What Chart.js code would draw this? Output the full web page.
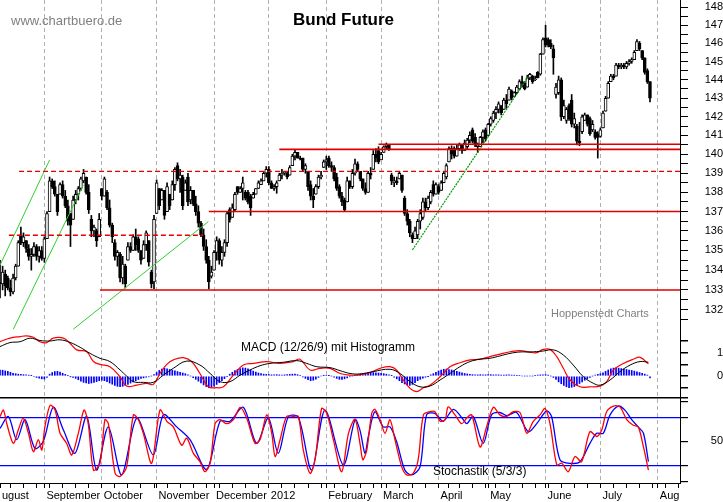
<!DOCTYPE html>
<html><head><meta charset="utf-8">
<script src="https://cdn.jsdelivr.net/npm/chart.js@4.4.1/dist/chart.umd.min.js"></script>
<style>
html,body{margin:0;padding:0;background:#fff;}
#wrap{position:relative;width:723px;height:502px;overflow:hidden;background:#fff;}
canvas{position:absolute;left:0;top:0;}
.t{position:absolute;white-space:nowrap;font-family:"Liberation Sans",Arial,Helvetica,sans-serif;line-height:1;}
</style></head><body>
<div id="wrap">
<canvas id="c" width="723" height="502"></canvas>
<div class="t" style="left:11px;top:13.5px;font-size:13px;color:#808080">www.chartbuero.de</div>
<div class="t" style="left:243.5px;width:200px;text-align:center;top:10.6px;font-size:17px;font-weight:bold;color:#000">Bund Future</div>
<div class="t" style="left:551px;top:308.2px;font-size:11px;color:#808080">Hoppenstedt Charts</div>
<div class="t" style="left:241px;top:340.5px;font-size:12px;color:#000">MACD (12/26/9) mit Histogramm</div>
<div class="t" style="left:433px;top:465px;font-size:12px;color:#000">Stochastik (5/3/3)</div>
</div>
<script>
const FONT_FAMILY = '"Liberation Sans", Arial, Helvetica, sans-serif';

// ---- Bund Future daily OHLC (trading-day index 0 = 9 Aug 2011) ----
const opens = [
133.4,133.3,133.8,133.6,133.1,132.9,133.6,134.2,135.8,135.4,
135.5,135.1,134.7,134.8,135.2,134.7,135.0,134.6,135.6,137.0,
138.6,138.3,137.9,137.9,138.4,137.8,137.3,136.9,136.6,137.6,
137.9,138.2,138.6,138.8,138.0,136.6,136.0,136.0,135.7,138.2,
137.8,138.0,137.2,136.3,135.4,134.7,134.8,133.6,134.2,134.5,
135.2,135.0,135.7,135.6,135.0,134.6,135.3,135.5,133.9,133.4,
136.9,138.2,137.6,138.1,137.0,137.9,137.6,138.4,139.4,138.7,
138.8,138.1,138.8,137.6,138.1,137.4,137.0,136.4,135.8,135.2,
134.5,133.7,134.0,134.9,135.5,134.5,134.9,135.4,137.1,136.7,
137.1,138.3,138.0,138.2,138.0,138.0,137.8,137.7,137.9,138.2,
138.4,138.6,139.0,139.2,138.5,138.2,138.3,138.6,138.9,139.0,
139.0,138.9,139.4,139.9,140.1,139.8,139.8,139.2,139.1,138.4,
137.8,137.9,138.3,138.8,139.3,139.6,139.8,139.4,139.3,138.8,
138.3,137.8,137.6,137.5,138.6,138.3,139.0,139.5,139.1,138.7,
138.2,138.0,139.0,139.2,140.0,140.2,139.7,140.1,140.4,140.5,
138.9,138.5,138.6,138.7,138.9,137.7,136.9,136.5,135.8,135.6,
135.8,136.5,136.7,137.5,137.2,137.5,138.4,137.9,138.3,138.1,
138.5,138.8,139.6,140.3,140.3,139.9,140.3,140.5,140.2,140.4,
140.75,141.3,140.9,140.4,140.4,140.9,141.3,141.0,141.6,141.8,
142.2,142.4,142.6,142.4,142.9,142.9,143.4,143.1,143.3,143.5,
143.9,143.8,143.6,144.1,144.2,144.0,144.4,144.3,145.4,146.3,
146.2,146.0,145.7,143.2,143.3,144.0,142.0,141.8,142.6,142.9,
141.6,141.5,140.7,141.2,141.8,142.1,141.9,141.3,141.2,141.1,
140.95,141.4,142.3,143.0,143.9,144.2,144.2,144.8,144.7,144.8,
144.7,144.9,145.0,145.1,145.6,146.0,145.6,145.2,144.5,143.9];
const highs = [
134.5,134.2,134.0,133.7,133.5,133.8,134.3,135.5,136.2,135.9,
135.5,135.3,135.1,135.4,135.3,135.2,135.2,135.7,137.0,138.8,
138.7,138.6,137.9,138.5,138.6,138.1,137.6,136.9,137.8,138.1,
138.3,138.8,139.2,138.8,138.4,136.8,136.3,136.1,136.9,138.2,
138.8,138.1,137.6,136.4,135.55,135.0,134.9,134.7,134.3,135.4,
135.4,135.8,136.1,135.7,135.0,135.5,136.0,135.5,134.0,136.8,
138.65,138.2,138.2,138.1,138.5,137.9,138.6,139.3,139.55,139.2,
138.9,138.65,139.0,138.3,138.1,137.8,137.3,136.5,136.1,135.55,
134.7,134.2,135.0,135.7,135.6,135.2,135.55,137.0,137.2,137.4,
138.0,138.3,138.3,138.8,138.1,138.1,137.9,138.0,138.2,138.6,
138.7,139.1,139.35,139.35,138.6,138.4,138.6,139.0,139.2,139.1,
139.1,139.4,140.0,140.26,140.1,139.9,139.8,139.5,139.1,138.6,
138.2,138.4,138.9,139.1,139.7,139.9,139.9,139.6,139.4,139.0,
138.4,138.0,137.7,138.8,138.6,139.2,139.75,139.6,139.1,138.7,
138.5,139.1,139.3,140.2,140.3,140.4,140.1,140.45,140.6,140.5,
139.0,138.8,138.8,139.1,138.9,137.8,137.1,136.6,135.9,136.2,
136.6,137.1,137.7,137.7,137.8,138.1,138.6,138.5,138.4,138.6,
139.1,139.5,140.4,140.45,140.4,140.5,140.6,140.5,140.76,140.85,
141.2,141.4,141.1,140.6,140.95,141.3,141.4,141.65,142.0,142.3,
142.55,142.8,142.6,143.0,143.2,143.6,143.45,143.35,143.7,144.0,
144.2,143.9,144.25,144.35,144.25,144.2,144.45,145.45,146.3,147.0,
146.3,146.2,145.9,143.8,144.2,144.1,142.9,142.5,142.7,143.2,
142.2,141.6,141.7,142.1,142.2,142.1,142.0,141.8,141.3,141.2,
141.4,142.3,143.1,143.9,144.3,144.3,144.9,144.9,144.9,144.9,
145.0,145.1,145.2,145.6,146.2,146.1,145.6,145.2,144.6,143.9];
const lows = [
132.6,133.0,132.7,133.0,132.7,132.8,133.5,134.2,135.3,135.2,
134.9,134.5,134.0,134.7,134.5,134.4,134.5,134.4,135.6,137.0,
138.2,137.8,136.8,137.9,137.7,137.2,136.3,135.2,136.6,137.4,
137.6,138.1,138.5,137.9,136.9,135.7,135.7,135.2,135.7,137.6,
137.8,137.1,136.2,135.4,134.5,134.2,133.4,133.3,133.1,134.5,
134.9,135.0,135.0,134.9,134.3,134.6,135.0,134.2,133.1,133.05,
136.9,137.1,137.6,136.6,137.0,137.1,137.6,138.1,138.6,138.0,
137.1,138.1,137.3,137.4,137.3,136.8,136.2,135.7,135.0,134.35,
133.05,133.6,134.0,134.5,134.3,134.2,134.7,135.2,136.45,136.7,
137.0,137.9,138.0,137.6,137.6,137.4,136.8,137.7,137.9,138.2,
138.4,138.6,138.8,138.4,138.2,138.1,137.95,138.6,138.7,138.9,
138.7,138.9,139.4,139.7,139.8,139.7,139.1,139.0,138.1,137.6,
137.2,137.9,138.2,138.7,139.3,139.2,139.3,139.1,138.6,138.1,
137.7,137.3,137.0,137.5,138.2,138.2,138.9,139.1,138.6,138.1,
137.9,138.0,138.7,139.2,139.6,139.5,139.7,140.1,140.3,140.2,
138.4,138.3,138.4,138.7,138.0,136.8,136.3,135.7,135.4,135.6,
135.6,136.1,136.6,137.0,137.1,137.4,137.8,137.9,137.9,138.1,
138.5,138.7,139.6,139.75,139.8,139.9,140.2,140.05,140.2,140.3,
140.6,140.6,140.4,140.1,140.4,140.6,140.7,141.0,141.5,141.7,
141.9,142.2,142.1,142.4,142.45,142.9,142.9,143.1,143.25,143.45,
143.6,143.45,143.6,144.0,143.8,143.95,144.1,144.25,145.4,145.8,
145.8,145.7,144.3,143.0,143.2,141.8,141.9,141.65,141.8,141.45,
141.4,140.5,140.45,141.1,141.8,141.5,141.0,141.2,140.8,139.8,
140.9,141.4,142.3,143.0,143.9,144.0,144.2,144.6,144.6,144.6,
144.6,144.8,144.9,145.1,145.6,145.6,145.1,144.3,143.8,142.8];
const closes = [
133.3,133.9,133.2,133.1,132.9,133.6,134.2,135.4,135.4,135.7,
135.1,134.7,134.8,135.2,134.7,135.0,134.6,135.6,136.9,138.6,
138.3,137.9,137.0,138.4,137.8,137.3,136.5,136.3,137.6,137.9,
138.2,138.7,139.0,138.0,137.1,136.0,136.2,135.5,136.6,137.8,
138.7,137.2,136.3,135.7,134.7,134.9,133.6,134.3,133.3,135.2,
135.0,135.7,135.3,135.0,134.5,135.3,135.9,134.4,133.3,136.6,
138.5,137.3,138.1,136.8,138.3,137.3,138.4,139.2,138.7,138.9,
137.3,138.5,137.5,138.1,137.4,137.0,136.4,135.8,135.2,134.5,
133.4,133.9,134.9,135.5,134.5,134.9,135.4,136.9,136.6,137.2,
137.9,138.0,138.2,138.5,137.7,137.5,137.2,137.9,138.2,138.5,
138.6,139.0,139.2,138.5,138.2,138.3,138.5,138.9,139.0,139.05,
138.8,139.3,139.9,140.1,139.8,139.75,139.2,139.4,138.3,137.8,
137.6,138.3,138.8,138.9,139.6,139.7,139.4,139.3,138.7,138.2,
137.8,137.5,137.1,138.6,138.3,139.0,139.5,139.2,138.7,138.2,
138.0,139.0,138.9,140.0,139.8,139.6,140.0,140.4,140.5,140.3,
138.6,138.6,138.5,139.0,138.1,136.9,136.5,135.9,135.6,136.0,
136.5,136.9,137.5,137.2,137.7,138.0,137.9,138.4,138.0,138.5,
139.0,139.4,140.3,140.0,139.9,140.3,140.5,140.2,140.6,140.75,
141.0,140.7,140.5,140.5,140.9,141.2,140.8,141.6,141.9,142.2,
142.4,142.7,142.2,142.9,142.7,143.5,143.0,143.3,143.6,143.9,
143.8,143.5,144.1,144.3,143.9,144.05,144.1,145.4,146.2,145.9,
145.9,145.8,145.2,143.6,144.0,142.0,142.6,142.4,141.9,141.6,
141.9,140.7,140.6,142.0,142.1,141.6,141.1,141.6,140.9,140.9,
141.3,142.2,143.0,143.8,144.2,144.1,144.8,144.7,144.8,144.7,
144.9,145.0,145.1,145.5,146.1,145.7,145.2,144.4,143.9,143.0];

// ---- MACD (12/26/9): histogram per day, lines read at sample days ----
const macdHist = [
0.26,0.25,0.22,0.2,0.16, 0.12,0.1,0.08,0.07, 0.06,0.05,0.04,0.02,
-0.03,-0.06,-0.09,-0.12,-0.13, -0.06,
0.08,0.15,0.19,0.2,0.17,0.12, 0.07,0.03,-0.02,-0.06,-0.1,-0.16,
-0.22,-0.27,-0.3,-0.32,-0.3,-0.27,-0.24, -0.2,-0.18,-0.2,-0.24,-0.3,
-0.35,-0.4,-0.44,-0.46,-0.44,-0.4,-0.36, -0.3,-0.25,-0.2,-0.15,
-0.1,-0.08,-0.05,-0.03,0.0,0.06, 0.15,0.24,0.3,0.33,0.31,
0.28,0.25,0.22,0.19,0.16,0.13,0.1, 0.05,0.0, -0.07,-0.14,-0.22,
-0.3,-0.38,-0.45,-0.5,-0.48,-0.43, -0.36,-0.28,-0.2,-0.11,
-0.02,0.08,0.16,0.23,0.28, 0.32,0.35,0.34,0.31, 0.26,0.21,0.17,0.13,0.1,0.08,
0.07,0.06,0.05,0.05,0.06,0.05,0.04,0.05,0.06,0.07,0.08,0.08,0.06,0.03,
-0.04,-0.1,-0.16,-0.2,-0.18,-0.13,-0.06, 0.0,0.02,0.03,0.02,0.0,
-0.05,-0.1,-0.14,-0.15,-0.12,-0.08, -0.03,0.0,0.02,0.05,
0.08,0.1,0.12,0.14,0.15,0.15,0.14,0.13,0.12,0.1,0.08,0.05,0.02,
-0.05,-0.12,-0.2,-0.28,-0.34,-0.38,-0.4,-0.36,-0.28,-0.2,
-0.14,-0.09,-0.05,-0.01,
0.05,0.1,0.16,0.22,0.26,0.29,0.3,0.28,0.26,0.23,
0.2,0.17,0.14,0.11,0.09,0.07,
0.06,0.05,0.05,0.06,0.05,0.05,0.06,0.06,0.05,0.05,0.05,0.04,0.04,0.05,0.05,0.04,0.04,0.03,0.03,
0.0,0.0,0.0,0.0,0.0, 0.03,0.04,0.05,0.05,0.06,0.04,0.0,
-0.06,-0.15,-0.25,-0.33,-0.4,-0.46,-0.5,-0.48,-0.45,-0.4,
-0.32,-0.25,-0.18,-0.12,-0.06, 0.0,0.04,0.07,0.1,0.14,
0.2,0.26,0.31,0.34,0.35,0.34,0.32,0.3,0.28,0.26,0.24,0.21,
0.18,0.15,0.12,0.08,0.04, -0.08];
const macdDay = [0,3.8,7.7,10.2,12.8,15.3,17.9,20.4,24.3,26.8,29.4,33.2,35.8,38.3,42.1,46,48.5,52.4,56.2,58.7,61.3,63.9,66.4,70.2,73.4,76.6,79.8,83,85.6,89.4,93.2,97.1,102.2,107.3,112.4,114.9,118.8,122.6,126.4,130.3,134.1,137.9,141.7,145.6,149.4,151.9,154.5,157.1,159.6,162.2,164.7,168.6,172.4,176.2,180.1,183.9,187.7,191.5,195.4,199.2,203,205.6,208.1,210.7,213.3,215.8,218.4,222.2,226,229.9,232.4,235,238.8,242.6,245.2,248.4];
const macdLine = [1.47,1.62,1.69,1.72,1.66,1.47,1.43,1.62,1.62,1.40,1.12,1.04,0.62,0.50,0.40,-0.03,-0.43,-0.39,-0.31,-0.36,0.11,0.50,0.69,0.79,0.62,0.11,-0.46,-0.50,-0.46,0.04,0.47,0.54,0.62,0.54,0.62,0.72,0.26,0.33,0.33,0.11,0.04,0.05,0.14,0.33,0.40,0.26,-0.17,-0.53,-0.67,-0.50,-0.39,-0.03,0.40,0.57,0.69,0.72,0.83,0.94,1.04,1.09,1.02,1.00,1.14,1.14,0.83,0.33,-0.17,-0.46,-0.46,-0.43,-0.24,0.26,0.54,0.72,0.80,0.52];
const signalDay = [0,3.8,7.7,11.5,15.3,19.2,23,26.8,30.7,34.5,38.3,42.1,46,48.5,51.1,54.9,58.7,62.6,66.4,71.5,76.6,80.5,84.3,88.1,92,95.8,99.6,103.4,108.6,113.7,117.5,121.3,126.4,130.3,134.1,137.9,143,149.4,153.2,157.1,160.9,164.7,168.6,172.4,176.2,180.1,183.9,187.7,191.5,195.4,199.2,203,208.1,212,215.8,219.6,223.5,227.3,229.9,233.7,237.5,241.4,245.2,248.4];
const signalLine = [1.26,1.43,1.47,1.62,1.52,1.50,1.55,1.44,1.23,0.97,0.76,0.62,0.26,0.0,-0.24,-0.27,-0.27,0.04,0.33,0.64,0.47,0.11,-0.24,-0.24,0.04,0.26,0.44,0.54,0.59,0.66,0.54,0.40,0.36,0.23,0.11,0.09,0.19,0.29,0.11,-0.24,-0.46,-0.43,-0.17,0.11,0.40,0.62,0.72,0.76,0.86,0.97,1.03,1.03,1.07,1.12,0.90,0.47,-0.03,-0.31,-0.39,-0.17,0.19,0.47,0.62,0.59];

// ---- Stochastik (5/3/3) ----
const stochKDay = [0,1.3,2.6,5.1,7,8.9,10.9,12.8,14.7,16,17.2,19.2,21.1,23,25.5,27.5,30,32.2,33.8,35.8,38.3,40.2,41.5,44.1,46,48.5,51.1,53,54.9,58.1,61.3,63.9,66.4,69.6,71.5,74.1,76.6,78.5,80.5,82.4,84.3,86.8,89.4,92,94.5,97.7,99.6,102.2,104.1,105.4,107.3,109.8,112.4,114.3,116.2,118.8,120.7,123.2,125.2,127.7,130.9,133.5,136,137.9,139,140.5,142.4,143.6,145.6,147.5,149.4,151.3,153.9,155.8,158.3,160.2,162.2,164.7,166.6,168.6,170.5,171.7,174.3,176.9,178.8,180.7,183.9,186.4,189,191.5,194.1,196.6,199.2,201.8,204.3,206.9,208.8,210.7,213.3,215.2,217.7,220.3,222.8,226,228.6,230.5,232.4,235,237.5,240.1,242.6,244.5,246.5,248.4];
const stochK = [80.8,89,72,47.5,64,79,60,37,52,39,68,95,89,60,47.5,33,60,89,72,14,22.5,77,72,10,6,18,83,77,60,22.5,89,75,68,45,54,35,24.5,12,22.5,72,77,72,77,92.5,79,47.5,52,83,60,31,52,81,81,81,39,10,27,91,85,52,12,60,77.5,47.5,27,39,85,90,77,60,77,52,18,8,10,27,83,87,87,75,77,93,83,72,79,83,43,68,92.5,83,81,87,86,60,75,83,91,72,20.5,22.5,12,31,24.5,62,56,64,87,94,93,77,70,68,43,14];
const stochDDay = [0,3.2,6.4,9.6,13.4,16.6,20.4,24.3,28.7,33.2,37,41.5,46.6,52.4,58.7,62.6,67.7,72.8,79.2,84.3,88.1,93.2,98.3,102.8,106.6,110.5,114.3,119.4,124.5,131.5,136,137.9,139.8,141.1,143.6,146.8,149.4,151.9,155.1,157.7,160.9,163.4,166.6,169.8,173.7,177.5,178.8,181.3,185.1,188.3,191.5,194.1,197.9,202.4,205.6,209.4,211.3,214.5,218.4,222.2,226,228.6,231.1,233.7,236.9,239.4,242,244.5,246.5,248.4];
const stochD = [66,81,52,77,41,50,92.5,64,35,81,14,68,8,79,33,83,68,52,15,75,75,92.5,47.5,79,35,81,80,14,89,20.5,77,64,35,56,87,68,68,50,14,8,18,83,85,75,90,77,72,81,47.5,83,86,82,86,62,72,88,81,27,22.5,24.5,47.5,60,60,83,94,89,77,68,60,24.5];

// ---- drawn support/resistance levels and trend lines ----
const solidLevelPrice = [133.0, 137.0, 140.26, 140.53];
const solidLevelFrom  = [38.3, 80.0, 107.0, 145.0];
const dashedLevelPrice = [139.1, 135.78];
const dashedLevelFrom  = [7.3, 3.4];
const dashedLevelTo    = [260.5, 77.9];
const trendFromDay   = [0, 5.1, 28.1];
const trendFromPrice = [134.25, 131.04, 131.04];
const trendToDay     = [19.0, 31.9, 79.8];
const trendToPrice   = [139.7, 138.38, 136.48];
const steepTrend = {fromDay:158, fromPrice:135.03, toDay:202.4, toPrice:144.17};

// ---- axis ticks ----
const monthTickIdx = [0, 17, 39, 60, 82, 103, 125, 146, 168, 187, 209, 230, 252];
const monthLabels = ['ugust','September','October','November','December','2012','February','March','April','May','June','July','Aug'];
const weekTickIdx = [4,9,14,19,24,29,34,44,49,54,59,64,69,74,79,84,89,94,99,108,113,118,123,128,133,138,143,148,153,158,163,172,176,181,186,190,195,200,205,210,215,220,225,235,240,245,250,255,260];
const priceTicks = [131.5,132,132.5,133,133.5,134,134.5,135,135.5,136,136.5,137,137.5,138,138.5,139,139.5,140,140.5,141,141.5,142,142.5,143,143.5,144,144.5,145,145.5,146,146.5,147,147.5,148];
const priceLabels = [132,133,134,135,136,137,138,139,140,141,142,143,144,145,146,147,148];
const MACD_MIN = -0.94, MACD_MAX = 1.97;
const macdTicks = [MACD_MIN, -0.5, 0, 0.5, 1, 1.5];
const macdLabels = [0, 1];
const stochTicks = [0, 20, 50, 80, 100];
const stochBands = [20, 80];
const stochLabels = [50];

const X_MAX = 260.5;
const xTicks = monthTickIdx.concat(weekTickIdx).sort((a,b)=>a-b);
const days = closes.map((_, i) => i);

const pts = (xs, ys) => xs.map((x, k) => ({x: x, y: ys[k]}));
const datasets = [];

// candles: wicks then bodies
datasets.push({type:'bar', label:'range', xAxisID:'x', yAxisID:'yP', order:4, grouped:false,
  data: days.map(i => ({x:i, y:[lows[i], highs[i]]})), barThickness:1, backgroundColor:'#000', borderWidth:0});
datasets.push({type:'bar', label:'body', xAxisID:'x', yAxisID:'yP', order:3, grouped:false,
  data: days.map(i => ({x:i, y:[opens[i], closes[i]]})), barThickness:3, minBarLength:1,
  backgroundColor: c => { const r = c.raw; return (r && r.y[1] >= r.y[0]) ? '#ffffff' : '#000000'; },
  borderColor:'#000', borderWidth:1, borderSkipped:false});

// levels
solidLevelPrice.forEach((p, k) => datasets.push({type:'line', xAxisID:'x', yAxisID:'yP', order:1,
  data:[{x:solidLevelFrom[k], y:p},{x:X_MAX, y:p}], borderColor:'#e00000', borderWidth:1.6, pointRadius:0, fill:false}));
dashedLevelPrice.forEach((p, k) => datasets.push({type:'line', xAxisID:'x', yAxisID:'yP', order:1,
  data:[{x:dashedLevelFrom[k], y:p},{x:dashedLevelTo[k], y:p}], borderColor:'#e00000', borderWidth:1.4, borderDash:[5,3], pointRadius:0, fill:false}));
trendFromDay.forEach((d, k) => datasets.push({type:'line', xAxisID:'x', yAxisID:'yP', order:1,
  data:[{x:d, y:trendFromPrice[k]},{x:trendToDay[k], y:trendToPrice[k]}], borderColor:'#33cc33', borderWidth:1, pointRadius:0, fill:false}));
datasets.push({type:'line', xAxisID:'x', yAxisID:'yP', order:1,
  data:[{x:steepTrend.fromDay, y:steepTrend.fromPrice},{x:steepTrend.toDay, y:steepTrend.toPrice}],
  borderColor:'#009900', borderWidth:1.2, borderDash:[2,1], pointRadius:0, fill:false});

// MACD
datasets.push({type:'bar', label:'hist', xAxisID:'x', yAxisID:'yM', order:5, grouped:false,
  data: days.map(i => ({x:i, y:macdHist[i]})), barThickness:1, backgroundColor:'#0000ff', borderWidth:0});
datasets.push({type:'line', xAxisID:'x', yAxisID:'yM', order:2, data: pts(signalDay, signalLine),
  borderColor:'#000', borderWidth:1, pointRadius:0, tension:0.4, fill:false});
datasets.push({type:'line', xAxisID:'x', yAxisID:'yM', order:2, data: pts(macdDay, macdLine),
  borderColor:'#ff0000', borderWidth:1.2, pointRadius:0, tension:0.4, fill:false});

// Stochastic
datasets.push({type:'line', xAxisID:'x', yAxisID:'yS', order:2, data: pts(stochKDay, stochK),
  borderColor:'#ff0000', borderWidth:1.3, pointRadius:0, tension:0.3, fill:false});
datasets.push({type:'line', xAxisID:'x', yAxisID:'yS', order:2, data: pts(stochDDay, stochD),
  borderColor:'#0000ff', borderWidth:1.3, pointRadius:0, tension:0.3, fill:false});

const axisFont = {family: FONT_FAMILY, size: 11};
const noPad = s => { s.paddingTop = 0; s.paddingBottom = 0; s.paddingLeft = 0; s.paddingRight = 0; };

new Chart(document.getElementById('c'), {
  type: 'bar',
  data: {datasets},
  options: {
    responsive: false, animation: false, devicePixelRatio: 1, events: [],
    layout: {padding: 0},
    plugins: {legend: {display: false}, tooltip: {enabled: false}, title: {display: false}},
    scales: {
      x: {
        type: 'linear', position: 'bottom', min: 0, max: X_MAX, offset: false,
        afterBuildTicks: s => { s.ticks = xTicks.map(v => ({value: v})); },
        afterFit: s => { s.height = 19; noPad(s); },
        ticks: {autoSkip: false, maxRotation: 0, minRotation: 0, align: 'start', labelOffset: 2, padding: 1,
          color: '#000', font: axisFont,
          callback: v => { const k = monthTickIdx.indexOf(v); return k >= 0 ? monthLabels[k] : ''; }},
        grid: {offset: false, drawOnChartArea: true, drawTicks: true, tickLength: 5, tickColor: '#000', lineWidth: 1,
          color: c => (c.tick && monthTickIdx.indexOf(c.tick.value) > 0) ? '#b0b0b0' : 'rgba(0,0,0,0)'},
        border: {display: true, color: '#000', width: 1, dash: [4, 3]}
      },
      yP: {
        type: 'logarithmic', position: 'right', stack: 'panels', stackWeight: 330,
        min: 131, max: 148.41,
        afterBuildTicks: s => { s.ticks = priceTicks.map(v => ({value: v})); },
        afterFit: s => { s.width = 43; noPad(s); },
        ticks: {autoSkip: false, crossAlign: 'far', padding: 14.6, color: '#000', font: axisFont,
          callback: v => priceLabels.includes(v) ? String(v) : ''},
        grid: {drawOnChartArea: false, drawTicks: true, tickLength: 8, tickColor: '#000'},
        border: {display: true, color: '#000', width: 1}
      },
      yM: {
        type: 'linear', position: 'right', stack: 'panels', stackWeight: 68,
        min: MACD_MIN, max: MACD_MAX,
        afterBuildTicks: s => { s.ticks = macdTicks.map(v => ({value: v})); },
        afterFit: s => { s.width = 43; noPad(s); },
        ticks: {autoSkip: false, crossAlign: 'far', padding: 26.9, color: '#000', font: axisFont,
          callback: v => macdLabels.includes(v) ? String(v) : ''},
        grid: {drawOnChartArea: true, drawTicks: true, tickLength: 8, tickColor: '#000', lineWidth: 1.5,
          color: c => (c.tick && c.tick.value === MACD_MIN) ? '#000' : 'rgba(0,0,0,0)'},
        border: {display: true, color: '#000', width: 1}
      },
      yS: {
        type: 'linear', position: 'right', stack: 'panels', stackWeight: 85,
        min: -2.1, max: 104.1,
        afterBuildTicks: s => { s.ticks = stochTicks.map(v => ({value: v})); },
        afterFit: s => { s.width = 43; noPad(s); },
        ticks: {autoSkip: false, crossAlign: 'far', padding: 20.8, color: '#000', font: axisFont,
          callback: v => stochLabels.includes(v) ? String(v) : ''},
        grid: {drawOnChartArea: true, drawTicks: true, tickLength: 8, tickColor: '#000', lineWidth: 1.2,
          color: c => (c.tick && stochBands.includes(c.tick.value)) ? '#0000ff' : 'rgba(0,0,0,0)'},
        border: {display: true, color: '#000', width: 1}
      }
    }
  }
});
</script>
</body></html>
